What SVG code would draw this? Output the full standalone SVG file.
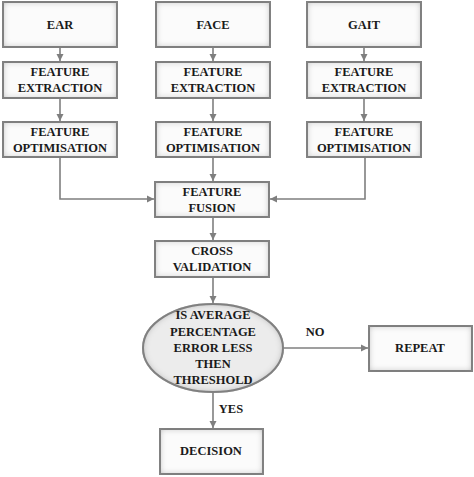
<svg xmlns="http://www.w3.org/2000/svg" width="474" height="477" viewBox="0 0 474 477">
<style>
.box{fill:#fbfbfb;stroke:#7a7a7a;stroke-width:2;filter:url(#inset)}
.ell{fill:#ececec;stroke:#7a7a7a;stroke-width:2;filter:url(#inset)}
text{font-family:"Liberation Serif","Times New Roman",serif;font-weight:bold;font-size:12.5px;fill:#1a1a1a;text-anchor:middle}
.c{fill:none;stroke:#7f7f7f;stroke-width:1.6}
</style>
<defs>
<filter id="inset" x="-10%" y="-10%" width="120%" height="120%">
<feFlood flood-color="#8a8a8a"/>
<feComposite in2="SourceAlpha" operator="out"/>
<feGaussianBlur stdDeviation="3.5"/>
<feComposite in2="SourceAlpha" operator="in" result="sh"/>
<feMerge><feMergeNode in="SourceGraphic"/><feMergeNode in="sh"/></feMerge>
</filter>
<marker id="ah" markerWidth="8" markerHeight="8" refX="7" refY="4" orient="auto" markerUnits="userSpaceOnUse">
<path d="M0,0.5 L7,4 L0,7.5 Z" fill="#7f7f7f"/>
</marker>
</defs>
<g id="connectors">
<line class="c" x1="60" y1="48" x2="60" y2="61" marker-end="url(#ah)"/>
<line class="c" x1="213" y1="48" x2="213" y2="61" marker-end="url(#ah)"/>
<line class="c" x1="364" y1="48" x2="364" y2="61" marker-end="url(#ah)"/>
<line class="c" x1="60" y1="98" x2="60" y2="121" marker-end="url(#ah)"/>
<line class="c" x1="213" y1="98" x2="213" y2="121" marker-end="url(#ah)"/>
<line class="c" x1="364" y1="98" x2="364" y2="121" marker-end="url(#ah)"/>
<polyline class="c" points="60,157 60,199 154,199" marker-end="url(#ah)"/>
<line class="c" x1="213" y1="157" x2="213" y2="181" marker-end="url(#ah)"/>
<polyline class="c" points="365,157 365,199 270,199" marker-end="url(#ah)"/>
<line class="c" x1="213" y1="217" x2="213" y2="240" marker-end="url(#ah)"/>
<line class="c" x1="213" y1="277" x2="213" y2="303" marker-end="url(#ah)"/>
<line class="c" x1="283" y1="348" x2="368" y2="348" marker-end="url(#ah)"/>
<line class="c" x1="213" y1="392" x2="213" y2="428" marker-end="url(#ah)"/>
<text x="315" y="336">NO</text>
<text x="231" y="413">YES</text>
</g>
<g id="ear"><rect class="box" x="3" y="2" width="114" height="45"/><text x="60" y="29">EAR</text></g>
<g id="face"><rect class="box" x="156" y="2" width="114" height="45"/><text x="213" y="29">FACE</text></g>
<g id="gait"><rect class="box" x="307" y="2" width="114" height="45"/><text x="364" y="29">GAIT</text></g>
<g id="fe1"><rect class="box" x="3" y="62" width="114" height="36"/><text x="60" y="76">FEATURE</text><text x="60" y="92">EXTRACTION</text></g>
<g id="fe2"><rect class="box" x="156" y="62" width="114" height="36"/><text x="213" y="76">FEATURE</text><text x="213" y="92">EXTRACTION</text></g>
<g id="fe3"><rect class="box" x="307" y="62" width="114" height="36"/><text x="364" y="76">FEATURE</text><text x="364" y="92">EXTRACTION</text></g>
<g id="fo1"><rect class="box" x="3" y="122" width="114" height="35"/><text x="60" y="136">FEATURE</text><text x="60" y="152">OPTIMISATION</text></g>
<g id="fo2"><rect class="box" x="156" y="122" width="114" height="35"/><text x="213" y="136">FEATURE</text><text x="213" y="152">OPTIMISATION</text></g>
<g id="fo3"><rect class="box" x="307" y="122" width="114" height="35"/><text x="364" y="136">FEATURE</text><text x="364" y="152">OPTIMISATION</text></g>
<g id="fusion"><rect class="box" x="155" y="182" width="114" height="35"/><text x="212" y="196">FEATURE</text><text x="212" y="212">FUSION</text></g>
<g id="cv"><rect class="box" x="155" y="241" width="114" height="36"/><text x="212" y="255">CROSS</text><text x="212" y="271">VALIDATION</text></g>
<g id="decision-q"><ellipse class="ell" cx="213" cy="348" rx="70" ry="44"/>
<text x="213" y="319">IS AVERAGE</text><text x="213" y="336">PERCENTAGE</text><text x="213" y="352">ERROR LESS</text><text x="213" y="368">THEN</text><text x="213" y="384">THRESHOLD</text></g>
<g id="repeat"><rect class="box" x="369" y="326" width="103" height="45"/><text x="420" y="352">REPEAT</text></g>
<g id="decision"><rect class="box" x="160" y="429" width="103" height="45"/><text x="211" y="455">DECISION</text></g>
</svg>
